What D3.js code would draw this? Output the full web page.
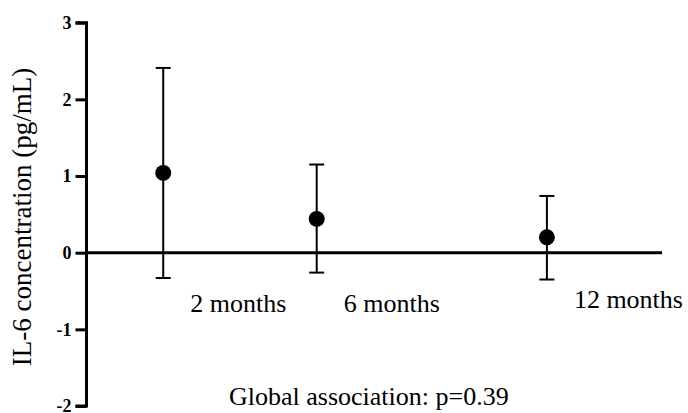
<!DOCTYPE html>
<html><head><meta charset="utf-8">
<script src="https://cdn.jsdelivr.net/npm/d3@7"></script>
<style>body{margin:0;background:#fff}svg{display:block}text{font-family:"Liberation Serif","Times New Roman",serif}</style>
</head><body><div id="chart"></div>
<script>
const months = [2, 6, 12];
const categories = ["2 months", "6 months", "12 months"];
const means = [1.04, 0.44, 0.20];
const upper = [2.41, 1.15, 0.74];
const lower = [-0.33, -0.26, -0.35];
const yTicks = [-2, -1, 0, 1, 2, 3];
const yTitle = "IL-6 concentration (pg/mL)";
const note = "Global association: p=0.39";

const W = 688, H = 413;
const svg = d3.select("#chart").append("svg").attr("width", W).attr("height", H);
const x = d3.scaleLinear().domain([0, 15]).range([86.5, 662]);
const y = d3.scaleLinear().domain([-2, 3]).range([406, 22.7]);

// y axis
const yAxis = d3.axisLeft(y).tickValues(yTicks).tickSize(11).tickPadding(4).tickFormat(d => String(d));
const ga = svg.append("g").attr("transform", `translate(${x(0)},0)`).call(yAxis);
ga.select(".domain").attr("stroke", "#000").attr("stroke-width", 3).attr("d", `M-11,${y(3)}H0V${y(-2)}H-11`);
ga.selectAll(".tick line").attr("stroke", "#000").attr("stroke-width", 3);
ga.selectAll(".tick text").attr("fill", "#000").style("font-size", "18px").style("font-weight", "bold")
  .style("font-family", '"Liberation Serif",serif');

// zero line
svg.append("line").attr("x1", x(0)).attr("x2", x(15)).attr("y1", y(0)).attr("y2", y(0))
  .attr("stroke", "#000").attr("stroke-width", 3);

// error bars
const g = svg.append("g");
months.forEach((m, i) => {
  const cx = x(m);
  g.append("line").attr("x1", cx).attr("x2", cx).attr("y1", y(upper[i])).attr("y2", y(lower[i]))
    .attr("stroke", "#000").attr("stroke-width", 2);
  [upper[i], lower[i]].forEach(v => {
    g.append("line").attr("x1", cx - 7.5).attr("x2", cx + 7.5).attr("y1", y(v)).attr("y2", y(v))
      .attr("stroke", "#000").attr("stroke-width", 2);
  });
  g.append("circle").attr("cx", cx).attr("cy", y(means[i])).attr("r", 8).attr("fill", "#000");
});

// category labels
const labelY = [312, 312, 308];
categories.forEach((c, i) => {
  svg.append("text").attr("x", x(months[i]) + 27).attr("y", labelY[i])
    .attr("text-anchor", "start").style("font-size", "26px").text(c);
});

// y title
svg.append("text").attr("transform", `translate(31,217) rotate(-90)`)
  .attr("text-anchor", "middle").style("font-size", "27px").text(yTitle);

// note
svg.append("text").attr("x", 229).attr("y", 405).attr("text-anchor", "start")
  .style("font-size", "26px").text(note);
</script></body></html>
